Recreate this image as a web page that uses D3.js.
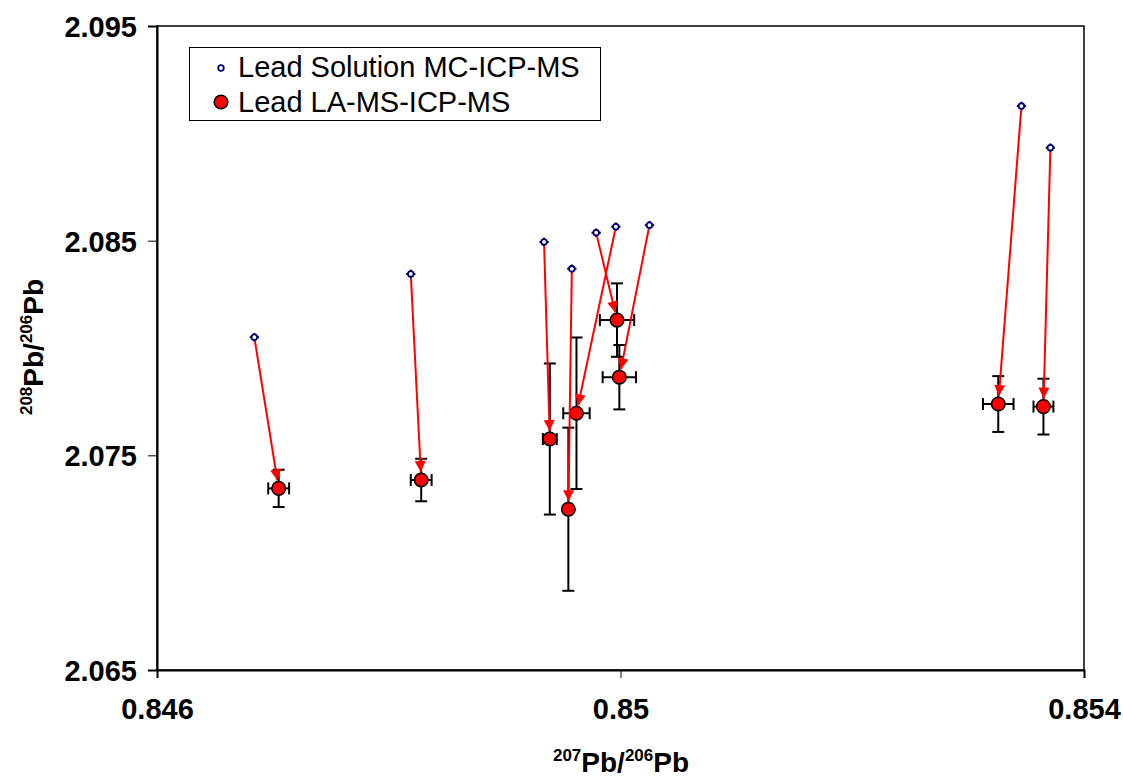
<!DOCTYPE html>
<html>
<head>
<meta charset="utf-8">
<script src="https://cdn.jsdelivr.net/npm/d3@7"></script>
<style>
  body { margin: 0; background: #fff; }
  svg { font-family: "Liberation Sans", Arial, sans-serif; }
</style>
</head>
<body>
<svg id="chart" width="1123" height="777"></svg>
<script>
// Lead Solution MC-ICP-MS (207/206, 208/206)
var solX = [0.84684, 0.84819, 0.84934, 0.84958, 0.84979, 0.84996, 0.85025, 0.85346, 0.85371];
var solY = [2.08050, 2.08345, 2.08494, 2.08369, 2.08537, 2.08565, 2.08572, 2.09127, 2.08933];
var solXErr = [0.00004, 0.00004, 0.00004, 0.00004, 0.00004, 0.00004, 0.00004, 0.00004, 0.00004];
var solYErr = [0.0002, 0.0002, 0.0002, 0.0002, 0.0002, 0.0002, 0.0002, 0.0002, 0.0002];

// Lead LA-MS-ICP-MS, same order as the solution points they belong to
var laX = [0.84705, 0.84828, 0.84939, 0.84955, 0.84997, 0.84962, 0.84999, 0.85326, 0.85365];
var laY = [2.07346, 2.07385, 2.07576, 2.07249, 2.08130, 2.07696, 2.07864, 2.07739, 2.07727];
var laXErr = [0.00009, 0.00009, 0.00006, 0.00003, 0.000148, 0.000114, 0.000144, 0.000132, 0.000086];
var laYErr = [0.00087, 0.00099, 0.00352, 0.0038, 0.00171, 0.00353, 0.0015, 0.0013, 0.0013];

var xTicks = [0.846, 0.85, 0.854];
var yTicks = [2.065, 2.075, 2.085, 2.095];
var legendLabels = ["Lead Solution MC-ICP-MS", "Lead LA-MS-ICP-MS"];

var svg = d3.select("svg#chart");

var margin = { top: 26, right: 39, bottom: 107, left: 157 };
var plotWidth = 1123 - margin.left - margin.right;
var plotHeight = 777 - margin.top - margin.bottom;

var xScale = d3.scaleLinear().domain([0.846, 0.854]).range([0, plotWidth]);
var yScale = d3.scaleLinear().domain([2.065, 2.095]).range([plotHeight, 0]);

var plot = svg.append("g")
    .attr("transform", "translate(" + margin.left + "," + margin.top + ")");

// frame
plot.append("rect")
    .attr("width", plotWidth)
    .attr("height", plotHeight)
    .attr("fill", "none")
    .attr("stroke", "#000")
    .attr("stroke-width", 1.5);

var xAxis = d3.axisBottom(xScale).tickValues(xTicks).tickSize(8).tickFormat(d3.format(""));
var yAxis = d3.axisLeft(yScale).tickValues(yTicks).tickSize(9).tickFormat(d3.format(".3f"));

var xGroup = plot.append("g")
    .attr("transform", "translate(0," + plotHeight + ")")
    .call(xAxis);
var yGroup = plot.append("g").call(yAxis);

[xGroup, yGroup].forEach(function(g) {
    g.select(".domain").attr("stroke", "#000").attr("stroke-width", 2);
    g.selectAll(".tick line").attr("stroke", "#000").attr("stroke-width", 1);
    g.selectAll(".tick text")
        .attr("fill", "#000")
        .style("font-size", "29px")
        .style("font-weight", "bold")
        .style("font-family", "'Liberation Sans', Arial, sans-serif");
});
xGroup.selectAll(".tick text").attr("y", 28).attr("dy", "0.71em");
yGroup.selectAll(".tick text").attr("x", -20).attr("dy", "0.36em");

var sol = solX.map(function(x, i) {
    return { x: x, y: solY[i], ex: solXErr[i], ey: solYErr[i] };
});
var la = laX.map(function(x, i) {
    return { x: x, y: laY[i], ex: laXErr[i], ey: laYErr[i] };
});

function drawErrorBars(data, cap, width) {
    var g = plot.append("g").attr("stroke", "#000").attr("stroke-width", width);
    data.forEach(function(d) {
        var cx = xScale(d.x), cy = yScale(d.y);
        var y0 = yScale(d.y + d.ey), y1 = yScale(d.y - d.ey);
        var x0 = xScale(d.x - d.ex), x1 = xScale(d.x + d.ex);
        g.append("line").attr("x1", cx).attr("x2", cx).attr("y1", y0).attr("y2", y1);
        g.append("line").attr("x1", cx - cap).attr("x2", cx + cap).attr("y1", y0).attr("y2", y0);
        g.append("line").attr("x1", cx - cap).attr("x2", cx + cap).attr("y1", y1).attr("y2", y1);
        g.append("line").attr("x1", x0).attr("x2", x1).attr("y1", cy).attr("y2", cy);
        g.append("line").attr("x1", x0).attr("x2", x0).attr("y1", cy - cap).attr("y2", cy + cap);
        g.append("line").attr("x1", x1).attr("x2", x1).attr("y1", cy - cap).attr("y2", cy + cap);
    });
}

drawErrorBars(la, 6, 2);
drawErrorBars(sol, 0, 2);

plot.append("g").selectAll("circle")
    .data(la)
    .join("circle")
    .attr("cx", function(d) { return xScale(d.x); })
    .attr("cy", function(d) { return yScale(d.y); })
    .attr("r", 6.8)
    .attr("fill", "#ff0000")
    .attr("stroke", "#000")
    .attr("stroke-width", 1.5);

plot.append("g").selectAll("circle")
    .data(sol)
    .join("circle")
    .attr("cx", function(d) { return xScale(d.x); })
    .attr("cy", function(d) { return yScale(d.y); })
    .attr("r", 2.8)
    .attr("fill", "#fff")
    .attr("stroke", "#000080")
    .attr("stroke-width", 1.8);

// arrows from solution values to laser values
svg.append("defs").append("marker")
    .attr("id", "arrow")
    .attr("viewBox", "0 0 10 10")
    .attr("refX", 10)
    .attr("refY", 5)
    .attr("markerWidth", 6)
    .attr("markerHeight", 5.5)
    .attr("markerUnits", "strokeWidth")
    .attr("orient", "auto")
    .append("path")
    .attr("d", "M0,0 L10,5 L0,10 Z")
    .attr("fill", "#ff0000");

var arrows = plot.append("g");
sol.forEach(function(s, i) {
    var x1 = xScale(s.x), y1 = yScale(s.y);
    var x2 = xScale(la[i].x), y2 = yScale(la[i].y);
    var len = Math.sqrt((x2 - x1) * (x2 - x1) + (y2 - y1) * (y2 - y1));
    var ux = (x2 - x1) / len, uy = (y2 - y1) / len;
    arrows.append("line")
        .attr("x1", x1 + ux * 4)
        .attr("y1", y1 + uy * 4)
        .attr("x2", x2 - ux * 8)
        .attr("y2", y2 - uy * 8)
        .attr("stroke", "#ff0000")
        .attr("stroke-width", 2)
        .attr("marker-end", "url(#arrow)");
});

// legend
var legend = svg.append("g");
legend.append("rect")
    .attr("x", 189.5).attr("y", 47.5)
    .attr("width", 411).attr("height", 73)
    .attr("fill", "#fff")
    .attr("stroke", "#000")
    .attr("stroke-width", 1);
legend.append("circle")
    .attr("cx", 221).attr("cy", 68).attr("r", 2.8)
    .attr("fill", "#fff").attr("stroke", "#000080").attr("stroke-width", 1.8);
legend.append("circle")
    .attr("cx", 221).attr("cy", 102).attr("r", 6.8)
    .attr("fill", "#ff0000").attr("stroke", "#000").attr("stroke-width", 1.5);
legend.selectAll("text.leg")
    .data(legendLabels)
    .join("text")
    .attr("class", "leg")
    .attr("x", 238)
    .attr("y", function(d, i) { return 77 + i * 35; })
    .style("font-size", "29px")
    .text(function(d) { return d; });

// axis titles
var xTitle = svg.append("text")
    .attr("x", 621)
    .attr("y", 772)
    .attr("text-anchor", "middle")
    .style("font-weight", "bold")
    .style("font-size", "28px");
xTitle.append("tspan").attr("dy", -11).style("font-size", "17px").text("207");
xTitle.append("tspan").attr("dy", 11).text("Pb/");
xTitle.append("tspan").attr("dy", -11).style("font-size", "17px").text("206");
xTitle.append("tspan").attr("dy", 11).text("Pb");

var yTitle = svg.append("text")
    .attr("transform", "translate(43,347) rotate(-90)")
    .attr("text-anchor", "middle")
    .style("font-weight", "bold")
    .style("font-size", "28px");
yTitle.append("tspan").attr("dy", -11).style("font-size", "17px").text("208");
yTitle.append("tspan").attr("dy", 11).text("Pb/");
yTitle.append("tspan").attr("dy", -11).style("font-size", "17px").text("206");
yTitle.append("tspan").attr("dy", 11).text("Pb");
</script>
</body>
</html>
